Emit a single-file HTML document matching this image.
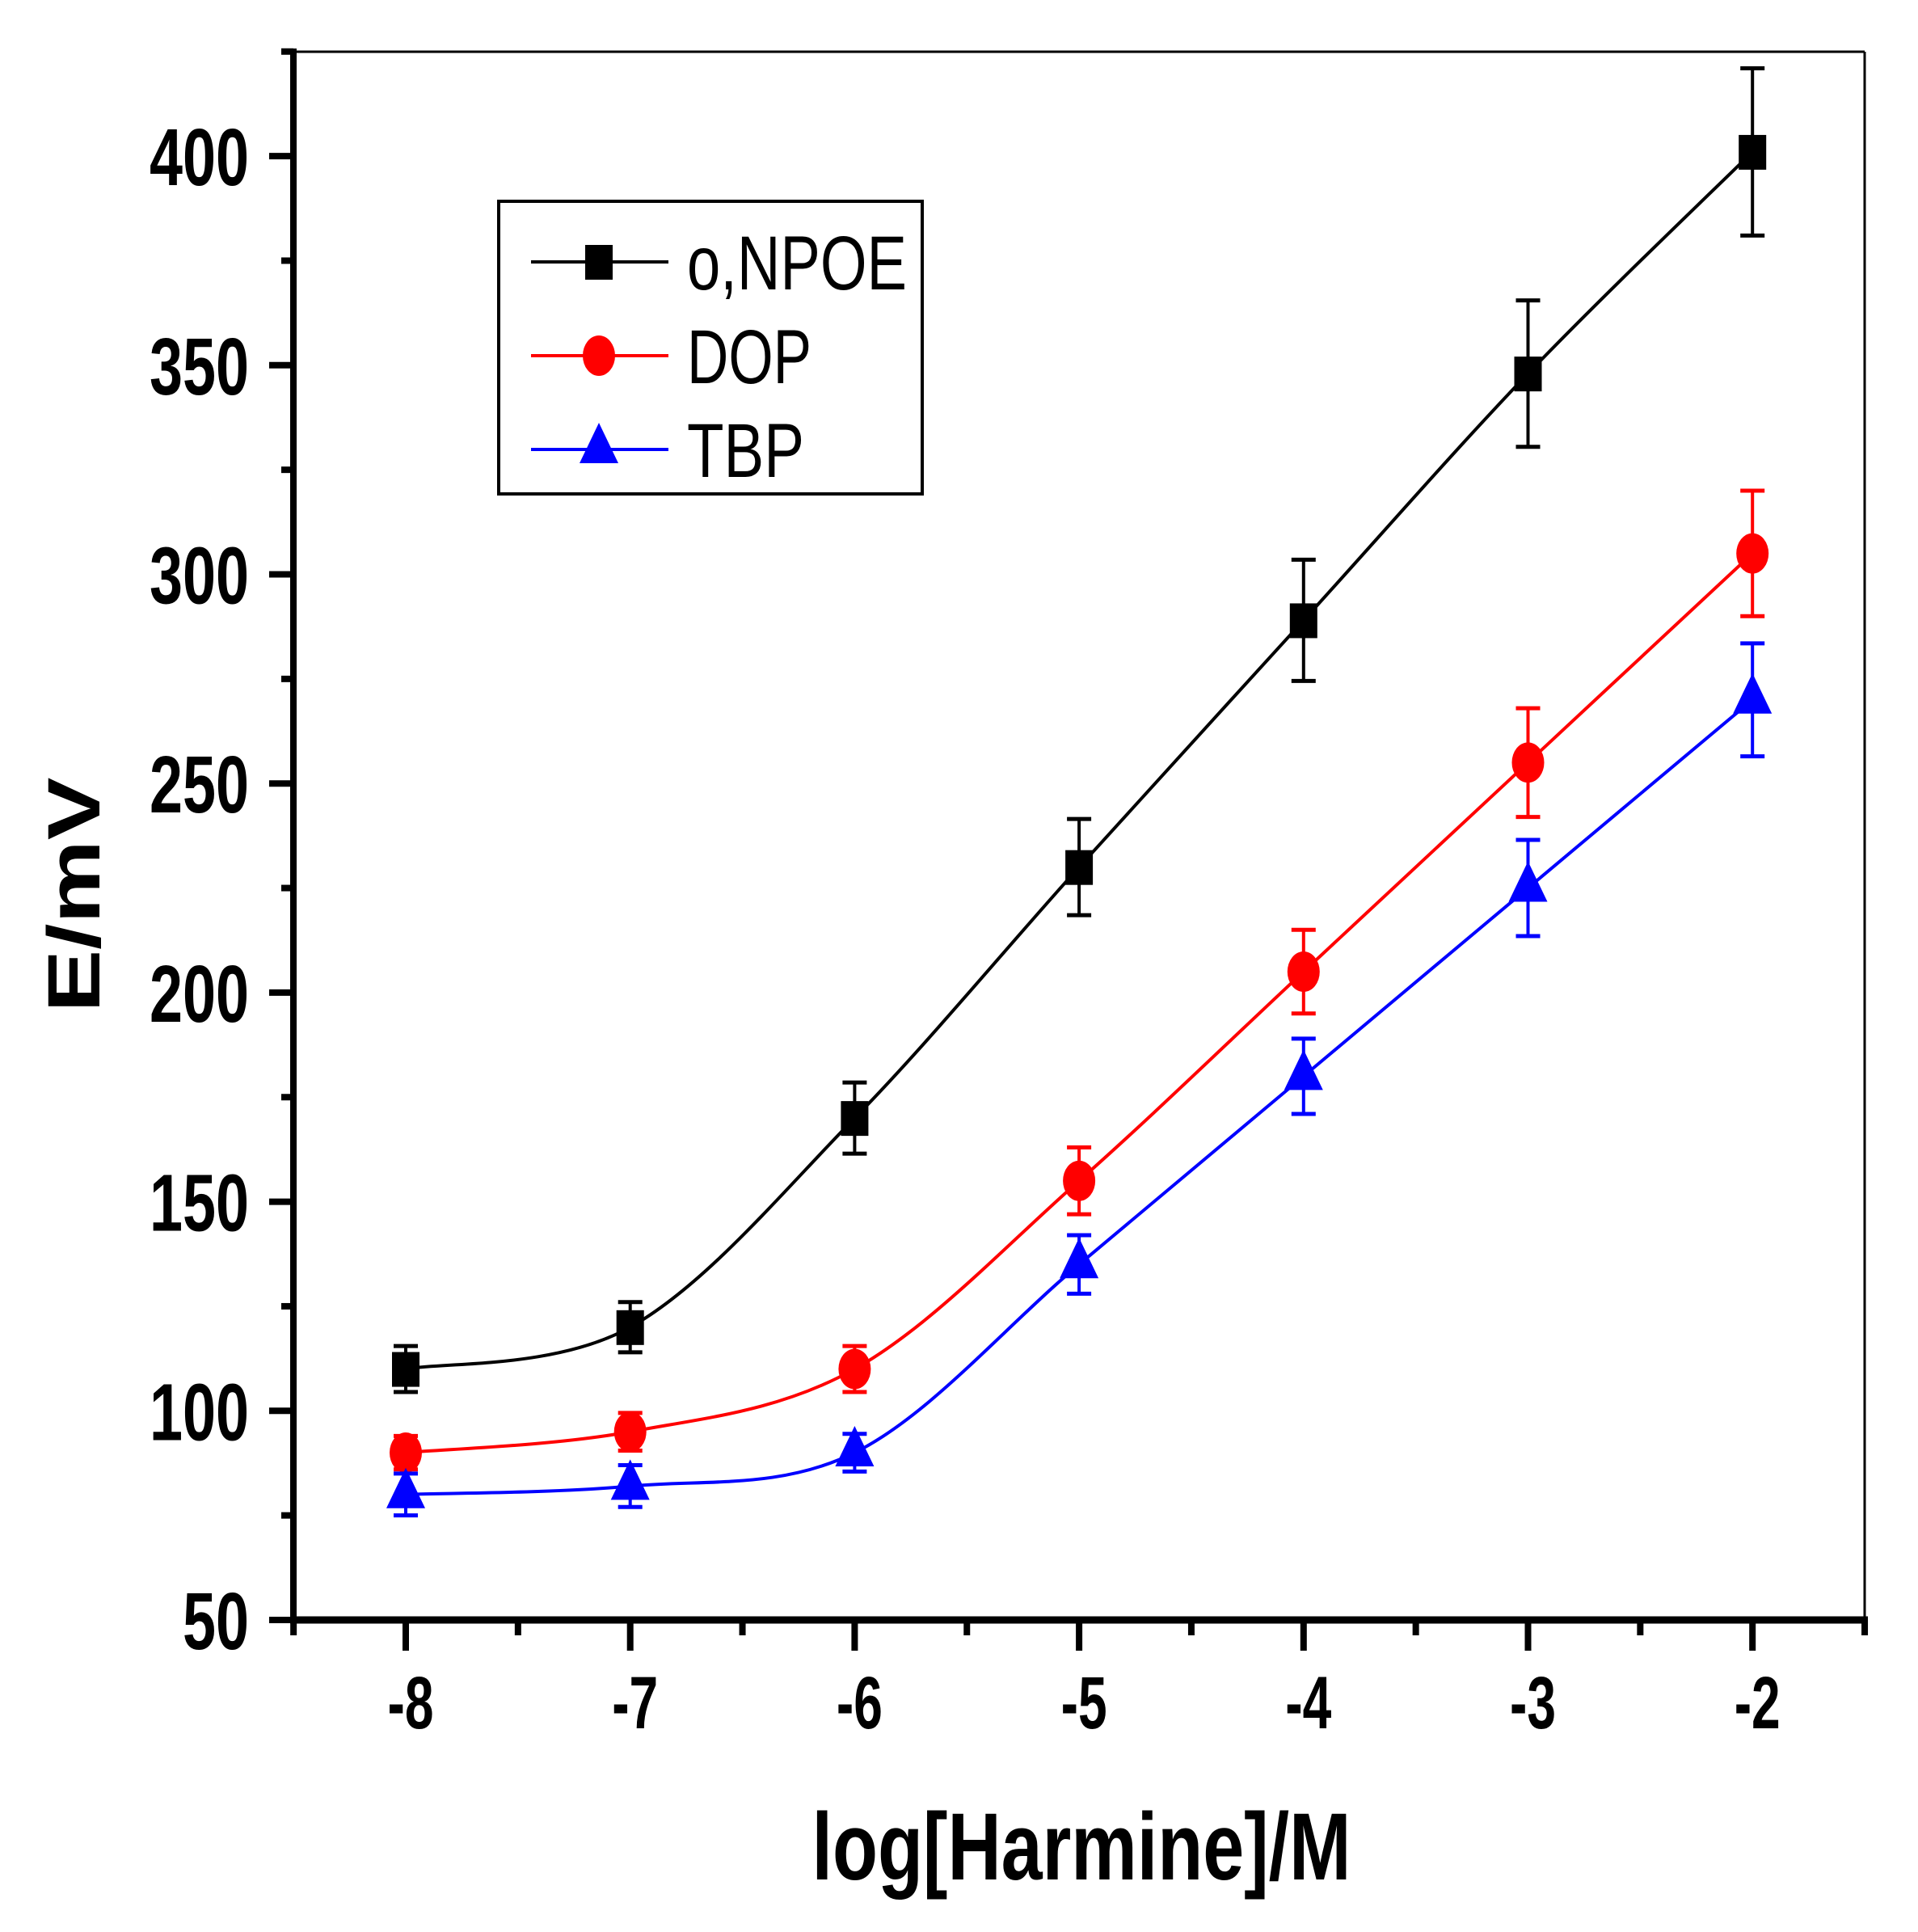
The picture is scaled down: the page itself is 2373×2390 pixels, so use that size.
<!DOCTYPE html>
<html><head><meta charset="utf-8"><style>
html,body{margin:0;padding:0;background:#fff;}
svg{display:block;}
</style></head><body>
<svg id="c" xmlns="http://www.w3.org/2000/svg" width="2373" height="2390" viewBox="0 0 2373 2390">
<rect width="2373" height="2390" fill="#fff"/>
<g id="g"></g>
</svg>
<script>
(function(){
var NS="http://www.w3.org/2000/svg", g=document.getElementById('g');
function X(v){return 502+(v+8)*277.7;}
function Y(v){return 2004-(v-50)*5.174;}
function el(t,a,txt){var e=document.createElementNS(NS,t);for(var k in a)e.setAttribute(k,a[k]);if(txt!==undefined)e.textContent=txt;g.appendChild(e);return e;}
el('line',{x1:363,y1:64,x2:2307,y2:64,stroke:'#000','stroke-width':3});
el('line',{x1:2307,y1:64,x2:2307,y2:2004,stroke:'#000','stroke-width':3});
el('line',{x1:363,y1:60,x2:363,y2:2008,stroke:'#000','stroke-width':8});
el('line',{x1:359,y1:2004,x2:2311,y2:2004,stroke:'#000','stroke-width':9});
for(var v=50;v<=425;v+=25){var maj=(v%50===0);var y=Y(v);
 el('line',{x1:maj?333:348,y1:y,x2:363,y2:y,stroke:'#000','stroke-width':8});
 if(maj){var s=String(v);el('text',{x:308,y:y+36,'text-anchor':'end','font-family':'Liberation Sans, sans-serif','font-weight':'bold','font-size':100,textLength:s.length*41,lengthAdjust:'spacingAndGlyphs'},s);}
}
for(var i=0;i<=14;i++){var xv=-8.5+i*0.5;var x=X(xv);var maj=(i%2===1);
 el('line',{x1:x,y1:2004,x2:x,y2:maj?2042:2023,stroke:'#000','stroke-width':8});
 if(maj) el('text',{x:x+6,y:2138,'text-anchor':'middle','font-family':'Liberation Sans, sans-serif','font-weight':'bold','font-size':92,textLength:57,lengthAdjust:'spacingAndGlyphs'},String(xv));
}
el('text',{x:1338,y:2325,'text-anchor':'middle','font-family':'Liberation Sans, sans-serif','font-weight':'bold','font-size':118,textLength:667,lengthAdjust:'spacingAndGlyphs'},'log[Harmine]/M');
el('text',{x:0,y:0,transform:'translate(123,1107) rotate(-90)','text-anchor':'middle','font-family':'Liberation Sans, sans-serif','font-weight':'bold','font-size':92,textLength:291,lengthAdjust:'spacingAndGlyphs'},'E/mV');
var xs=[-8,-7,-6,-5,-4,-3,-2];
var S=[
 {c:'#000',m:'sq',d:[110,120,170,230,289,348,401],e:[5.5,6,8.5,11.5,14.5,17.5,20]},
 {c:'#ff0000',m:'ci',d:[90,95,110,155,205,255,305],e:[4,4.5,5.5,8,10,13,15]},
 {c:'#0000ff',m:'tr',d:[80,82,90,135,180,225,270],e:[5,5,4.5,7,9,11.5,13.5]}
];
function path(pts){var d='M'+pts[0][0]+','+pts[0][1];
 for(var i=0;i<pts.length-1;i++){var p0=pts[i-1]||pts[i],p1=pts[i],p2=pts[i+1],p3=pts[i+2]||p2;
  var c1=[p1[0]+(p2[0]-p0[0])/6,p1[1]+(p2[1]-p0[1])/6],c2=[p2[0]-(p3[0]-p1[0])/6,p2[1]-(p3[1]-p1[1])/6];
  d+=' C'+c1[0]+','+c1[1]+' '+c2[0]+','+c2[1]+' '+p2[0]+','+p2[1];}
 return d;}
function marker(m,x,y,c){
 if(m==='sq') el('rect',{x:x-17,y:y-21,width:34,height:43,fill:c});
 else if(m==='ci') el('ellipse',{cx:x,cy:y,rx:20,ry:25,fill:c});
 else el('polygon',{points:(x)+','+(y-33)+' '+(x+24)+','+(y+17)+' '+(x-24)+','+(y+17),fill:c});
}
S.forEach(function(s){
 var pts=xs.map(function(x,i){return [X(x),Y(s.d[i])];});
 el('path',{d:path(pts),fill:'none',stroke:s.c,'stroke-width':4});
 pts.forEach(function(p,i){var t=Y(s.d[i]+s.e[i]),b=Y(s.d[i]-s.e[i]);
  el('line',{x1:p[0],y1:t,x2:p[0],y2:b,stroke:s.c,'stroke-width':4});
  el('line',{x1:p[0]-15,y1:t,x2:p[0]+15,y2:t,stroke:s.c,'stroke-width':5});
  el('line',{x1:p[0]-15,y1:b,x2:p[0]+15,y2:b,stroke:s.c,'stroke-width':5});
  marker(s.m,p[0],p[1],s.c);
 });
});
el('rect',{x:617,y:249,width:524,height:362,fill:'#fff',stroke:'#000','stroke-width':4});
var ly=[324,440,556],names=['o,NPOE','DOP','TBP'],tl=[272,154,145];
S.forEach(function(s,i){
 el('line',{x1:657,y1:ly[i],x2:827,y2:ly[i],stroke:s.c,'stroke-width':4});
 marker(s.m,741,ly[i],s.c);
 el('text',{x:850,y:ly[i]+34,'font-family':'Liberation Sans, sans-serif','font-size':95,textLength:tl[i],lengthAdjust:'spacingAndGlyphs'},names[i]);
});
})();
</script>
</body></html>
